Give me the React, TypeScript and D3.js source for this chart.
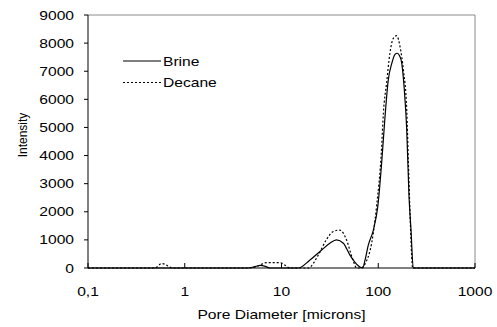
import React from "react";
import * as d3 from "d3";

const brineDiameter = [0.1, 4.5, 5.2, 6, 6.8, 7.6, 14.9, 19.7, 26, 31.6, 37, 43.6, 51, 57, 63, 69, 73, 79, 89, 99, 109, 117, 127, 138, 149, 157, 166, 175, 186, 197, 208, 218, 230, 1000];
const brineIntensity = [0, 0, 40, 90, 60, 0, 0, 285, 640, 880, 1000, 880, 460, 220, 60, 0, 280, 820, 1350, 2200, 3840, 5300, 6690, 7280, 7600, 7640, 7550, 7280, 6330, 4910, 2540, 1350, 0, 0];

const decaneDiameter = [0.1, 0.49, 0.58, 0.76, 4.5, 5.5, 7, 9.6, 10.9, 12.2, 18.9, 24, 29, 34, 40, 47, 54, 60, 66, 75, 82, 89, 96, 108, 113, 122, 132, 143, 155, 168, 182, 197, 205, 213, 227, 1000];
const decaneIntensity = [0, 0, 160, 0, 0, 50, 190, 190, 100, 0, 0, 460, 1000, 1290, 1350, 1000, 350, 0, 0, 220, 600, 1250, 2180, 4200, 5510, 6580, 7640, 8170, 8264, 7870, 7040, 5620, 3720, 1950, 0, 0];

const xTicks = [0.1, 1, 10, 100, 1000];
const xTickLabels = ["0,1", "1", "10", "100", "1000"];
const yTicks = [0, 1000, 2000, 3000, 4000, 5000, 6000, 7000, 8000, 9000];

const seriesNames = ["Brine", "Decane"];

const W = 497, H = 327;
const M = { left: 88, top: 15, right: 475, bottom: 268 };
const FONT = "'Liberation Sans', Arial, sans-serif";
const FS = 12.5;
const SX = 1.25;

export default function App() {
  const x = d3.scaleLog().domain([0.1, 1000]).range([M.left, M.right]);
  const y = d3.scaleLinear().domain([0, 9000]).range([M.bottom, M.top]);
  const line = d3
    .line<[number, number]>()
    .x((d) => x(d[0]))
    .y((d) => y(d[1]))
    .curve(d3.curveMonotoneX);
  const brine = line(brineDiameter.map((d, i) => [d, brineIntensity[i]]) as [number, number][]);
  const decane = line(decaneDiameter.map((d, i) => [d, decaneIntensity[i]]) as [number, number][]);

  const T = (props: { x: number; y: number; anchor: string; children: React.ReactNode }) => (
    <text
      transform={`translate(${props.x},${props.y}) scale(${SX},1)`}
      textAnchor={props.anchor}
      fontFamily={FONT}
      fontSize={FS}
      fill="#000"
    >
      {props.children}
    </text>
  );

  return (
    <svg
      width={W}
      height={H}
      style={{ position: "absolute", left: 0, top: 0, background: "#fff" }}
    >
      <line x1={M.left} x2={M.right} y1={M.top} y2={M.top} stroke="#8a8a8a" strokeWidth={1} />
      <line x1={M.right} x2={M.right} y1={M.top} y2={M.bottom} stroke="#8a8a8a" strokeWidth={1} />

      <path d={brine || ""} fill="none" stroke="#000" strokeWidth={1.2} />
      <path d={decane || ""} fill="none" stroke="#000" strokeWidth={1.2} strokeDasharray="2,2" />

      <line x1={M.left} x2={M.left} y1={M.top} y2={M.bottom} stroke="#000" strokeWidth={1} />
      <line x1={M.left} x2={M.right} y1={M.bottom} y2={M.bottom} stroke="#000" strokeWidth={1} />

      {yTicks.map((t) => (
        <g key={"y" + t}>
          <line x1={M.left - 4} x2={M.left} y1={y(t)} y2={y(t)} stroke="#000" />
          <T x={74} y={y(t) + 4.5} anchor="end">
            {t}
          </T>
        </g>
      ))}
      {xTicks.map((t, i) => (
        <g key={"x" + t}>
          <line x1={x(t)} x2={x(t)} y1={M.bottom} y2={M.bottom - 5} stroke="#000" />
          <T x={x(t)} y={296} anchor="middle">
            {xTickLabels[i]}
          </T>
        </g>
      ))}

      <T x={(M.left + M.right) / 2} y={319} anchor="middle">
        Pore Diameter [microns]
      </T>
      <text
        transform={`translate(27,135) rotate(-90)`}
        textAnchor="middle"
        fontFamily={FONT}
        fontSize={12}
        fill="#000"
      >
        Intensity
      </text>

      <line x1={123} x2={161} y1={61} y2={61} stroke="#000" strokeWidth={1.2} />
      <T x={163} y={65.5} anchor="start">
        {seriesNames[0]}
      </T>
      <line x1={123} x2={161} y1={82.5} y2={82.5} stroke="#000" strokeWidth={1.2} strokeDasharray="2,2" />
      <T x={163} y={87} anchor="start">
        {seriesNames[1]}
      </T>
    </svg>
  );
}
